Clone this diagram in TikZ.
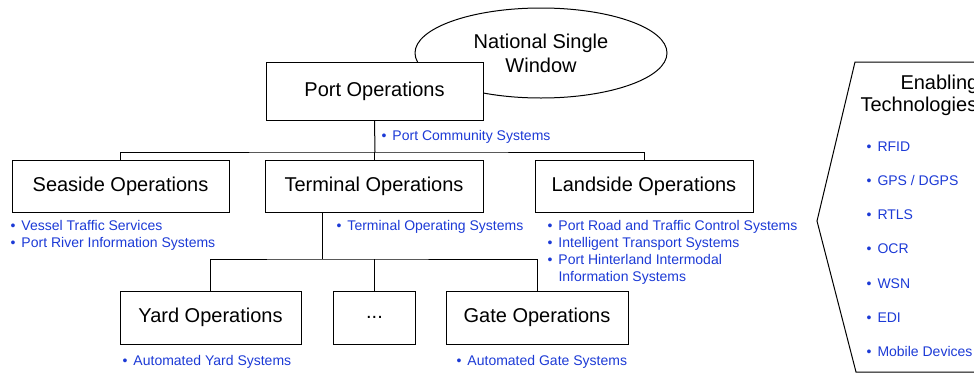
\documentclass[tikz,border=0pt]{standalone}
\usepackage{fontspec}
\setmainfont{Liberation Sans}
\usepackage{tikz}
\usetikzlibrary{shapes,positioning}
\definecolor{itblue}{RGB}{28,58,214}
\newcommand{\bitem}[1]{\makebox[11pt][l]{\textbullet}#1}

\begin{document}
\begin{tikzpicture}[x=1pt, y=-1pt, line width=1pt]
    \tikzstyle{box} = [rectangle, draw, fill=white, inner sep=0pt, minimum height=52pt, font=\fontsize{20}{24}\selectfont]
    \tikzstyle{list} = [inner sep=0pt, anchor=base west, align=left, text=itblue, font=\fontsize{14}{17}\selectfont]
    \tikzstyle{title} = [inner sep=0pt, anchor=base west, font=\fontsize{20}{24}\selectfont]
    \useasboundingbox (0,0) rectangle (974,383);
    \clip (0,0) rectangle (974,383);

    \node [ellipse, draw, minimum width=252pt, minimum height=90pt, inner sep=0pt, align=center, font=\fontsize{20}{24}\selectfont] (nsw) at (541,53) {National Single\\Window};
    \node [box, minimum width=217pt, minimum height=58pt] (port) at (374.5,91) {Port Operations};

    \node [box, minimum width=217pt] (seas) at (120.5,186) {Seaside Operations};
    \node [box, minimum width=218pt] (term) at (374,186) {Terminal Operations};
    \node [box, minimum width=218pt] (land) at (644,186) {Landside Operations};

    \node [box, minimum width=181pt, minimum height=53pt] (yard) at (210.5,317.5) {Yard Operations};
    \node [box, minimum width=82pt, minimum height=53pt] (dots) at (374.5,317.5) {...};
    \node [box, minimum width=182pt, minimum height=53pt] (gate) at (537,317.5) {Gate Operations};

    \coordinate (topbus) at (375,152);
    \coordinate (lowbus) at (322,259);
    \draw (port.south) -- (topbus);
    \draw (seas.north) |- (topbus) -| (land.north);
    \draw (term.north) -- (term.north |- topbus);
    \draw (term.south -| lowbus) -- (lowbus);
    \draw (yard.north) |- (lowbus) -| (gate.north);
    \draw (dots.north) -- (dots.north |- lowbus);

    % multi-line lists sit on the baseline of their last line
    \node [list] (pcs) at (381,140) {\bitem{Port Community Systems}};
    \node [list] (seal) at (10,247) {\bitem{Vessel Traffic Services}\\\bitem{Port River Information Systems}};
    \node [list] (terml) at (336,230) {\bitem{Terminal Operating Systems}};
    \node [list] (landl) at (547,281) {\bitem{Port Road and Traffic Control Systems}\\\bitem{Intelligent Transport Systems}\\\bitem{Port Hinterland Intermodal}\\\hspace{11pt}Information Systems};
    \node [list] (yardl) at (122,365) {\bitem{Automated Yard Systems}};
    \node [list] (gatel) at (456,365) {\bitem{Automated Gate Systems}};

    \draw (1000,62) -- (855,62) -- (817,221) -- (856,372) -- (1000,372);
    \node [title] (enab) at (900,89) {Enabling};
    \node [title] (tech) at (860,111) {Technologies};
    \foreach \t [count=\i from 0] in {RFID, GPS / DGPS, RTLS, OCR, WSN, EDI, Mobile Devices}
        \node [list] (et\i) at (866,{151+34.3*\i}) {\bitem{\t}};
\end{tikzpicture}
\end{document}
